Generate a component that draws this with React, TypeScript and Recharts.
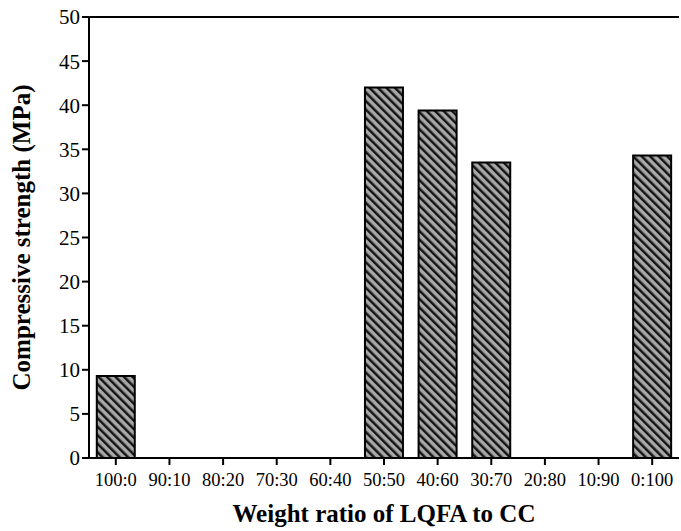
import { BarChart, Bar, XAxis, YAxis, ReferenceLine } from 'recharts';

const ratios = ['100:0', '90:10', '80:20', '70:30', '60:40', '50:50', '40:60', '30:70', '20:80', '10:90', '0:100'];
const strength = [9.3, null, null, null, null, 42.0, 39.4, 33.5, null, null, 34.3];
const yTicks = [0, 5, 10, 15, 20, 25, 30, 35, 40, 45, 50];

const data = ratios.map((r, i) => ({ ratio: r, strength: strength[i] }));

const serif = '"Liberation Serif", "DejaVu Serif", serif';

export default function App() {
  return (
    <div style={{ position: 'absolute', left: 0, top: 0, background: '#fff' }}>
      <BarChart
        width={681}
        height={531}
        data={data}
        margin={{ top: 17, right: 2, bottom: 0, left: 0 }}
        barCategoryGap="14.5%"
      >
        <defs>
          <pattern
            id="hatch"
            width="6"
            height="6"
            patternUnits="userSpaceOnUse"
            patternTransform="rotate(-45)"
          >
            <rect width="6" height="6" fill="#a8a8a8" />
            <rect width="2.5" height="6" fill="#141414" />
          </pattern>
        </defs>
        <XAxis
          dataKey="ratio"
          height={73}
          stroke="#000"
          strokeWidth={2}
          tickSize={7}
          tickLine={{ stroke: '#000', strokeWidth: 2 }}
          tick={{ fill: '#000', fontSize: 18.5, fontFamily: serif, dy: 6 }}
          interval={0}
          label={{
            value: 'Weight ratio of LQFA to CC',
            position: 'insideBottom',
            offset: 9,
            fill: '#000',
            fontSize: 25,
            fontWeight: 'bold',
            fontFamily: serif,
          }}
        />
        <YAxis
          width={89}
          domain={[0, 50]}
          ticks={yTicks}
          stroke="#000"
          strokeWidth={2}
          tickSize={7}
          tickLine={{ stroke: '#000', strokeWidth: 2 }}
          tick={{ fill: '#000', fontSize: 21, fontFamily: serif }}
          label={{
            value: 'Compressive strength (MPa)',
            angle: -90,
            position: 'insideLeft',
            offset: 21,
            style: { textAnchor: 'middle' },
            fill: '#000',
            fontSize: 25,
            fontWeight: 'bold',
            fontFamily: serif,
          }}
        />
        <YAxis
          yAxisId="right"
          orientation="right"
          width={0}
          domain={[0, 50]}
          tick={false}
          tickLine={false}
          stroke="#000"
          strokeWidth={2}
        />
        <ReferenceLine y={50} stroke="#000" strokeWidth={2} />
        <Bar
          dataKey="strength"
          fill="url(#hatch)"
          stroke="#000"
          strokeWidth={2}
          isAnimationActive={false}
        />
      </BarChart>
    </div>
  );
}
